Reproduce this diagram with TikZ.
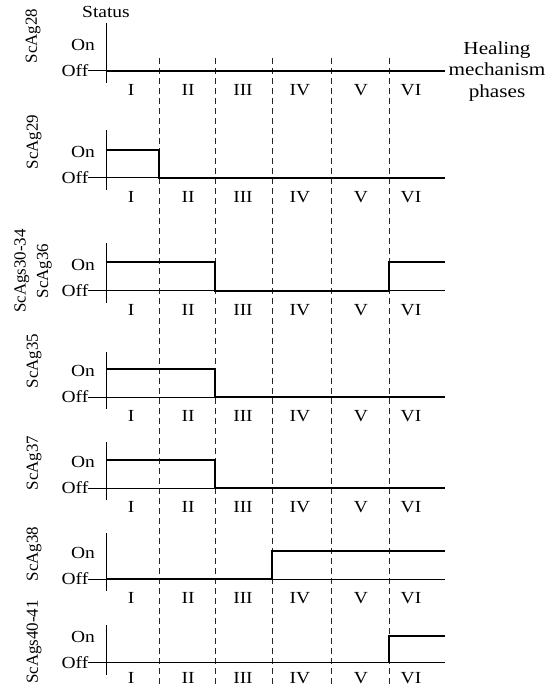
\documentclass[tikz,border=0pt]{standalone}
\usepackage{fontspec}
\setmainfont{Liberation Serif}[FakeStretch=1.15]
\newfontfamily\rotfont{Liberation Serif}
\tikzset{
  axisline/.style={line width=0.8bp},
  sig/.style={line width=1.8bp, line join=miter},
  phasedash/.style={line width=0.9bp, dash pattern=on 6bp off 4bp, black!85},
  lbl/.style={font=\fontsize{17}{20}\selectfont, inner sep=0pt},
  rlbl/.style={font=\rotfont\fontsize{17}{22.5}\selectfont, inner sep=0pt, rotate=90, align=center},
}
\newcommand\mypanel[4]{%
  \coordinate (#1-top) at (106,#3);
  \coordinate (#1-bot) at (106,#2+12);
  \coordinate (#1-o) at (106,#2);
  \coordinate (#1-l) at (88,#2);
  \coordinate (#1-r) at (445,#2);
  \draw[axisline] (#1-top) -- (#1-bot);
  \draw[axisline] (#1-l) -- (#1-r);
  \node[lbl, anchor=east] (#1-off) at (88.5,#2) {Off};
  \node[lbl] (#1-on) at (83,#2-26) {On};
  \node[lbl] (#1-n1) at (131,#2+#4) {I};
  \node[lbl] (#1-n2) at (188,#2+#4) {II};
  \node[lbl] (#1-n3) at (243,#2+#4) {III};
  \node[lbl] (#1-n4) at (300,#2+#4) {IV};
  \node[lbl] (#1-n5) at (361,#2+#4) {V};
  \node[lbl] (#1-n6) at (411,#2+#4) {VI};
}
\begin{document}
\begin{tikzpicture}[x=1bp,y=-1bp]
\useasboundingbox (0,0) rectangle (547,688);
% phase boundaries
\foreach \x/\n in {159/a,215/b,272/c,331/d,389/e}{
  \coordinate (dt-\n) at (\x,58);
  \coordinate (db-\n) at (\x,688);
  \draw[phasedash] (dt-\n) -- (db-\n);
}
% panels
\mypanel{p1}{70.7}{23}{19}
\mypanel{p2}{177.7}{130}{19}
\mypanel{p3}{290.7}{243}{19}
\mypanel{p4}{397}{352}{19}
\mypanel{p5}{488}{442}{19}
\mypanel{p6}{579}{533}{19}
\mypanel{p7}{662.5}{625}{15.5}
% titles
\node[lbl] (status) at (106,12) {Status};
\node[lbl, align=center, font=\fontsize{18.5}{21.5}\selectfont] (phases) at (497,71.5) {Healing\\mechanism\\phases};
% signal names
\node[rlbl] (n1) at (33,36) {ScAg28};
\node[rlbl] (n2) at (34,142) {ScAg29};
\node[rlbl] (n3) at (33,271) {ScAgs30-34\\ScAg36};
\node[rlbl] (n4) at (34,361) {ScAg35};
\node[rlbl] (n5) at (34,463) {ScAg37};
\node[rlbl] (n6) at (34,554) {ScAg38};
\node[rlbl] (n7) at (34,642) {ScAgs40-41};
% signals
\draw[sig] (p1-o) -- (p1-r);
\draw[sig] (106,150) -- (159,150) -- (159,177.7) -- (p2-r);
\draw[sig] (106,262) -- (215,262) -- (215,290.7) -- (389,290.7) -- (389,262) -- (445,262);
\draw[sig] (106,369) -- (215,369) -- (215,397) -- (p4-r);
\draw[sig] (106,460) -- (215,460) -- (215,488) -- (p5-r);
\draw[sig] (p6-o) -- (272,579) -- (272,551) -- (445,551);
\draw[sig] (p7-o) -- (389,662.5) -- (389,636) -- (445,636);
\end{tikzpicture}
\end{document}
